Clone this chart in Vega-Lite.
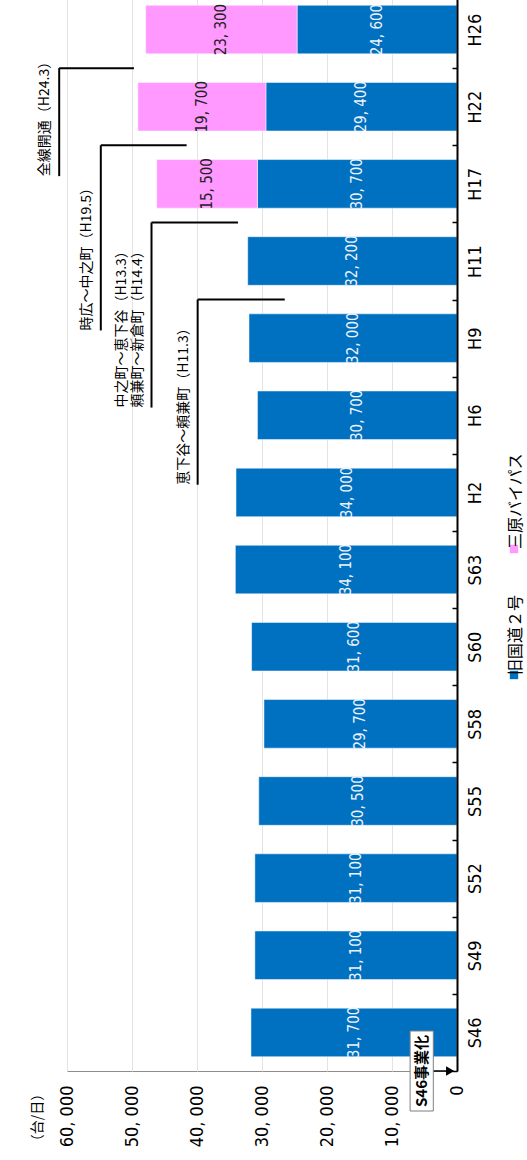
{
  "$schema": "https://vega.github.io/schema/vega-lite/v6.json",
  "width": 390,
  "height": 1080,
  "autosize": "none",
  "padding": {"left": 67, "top": -9, "right": 70, "bottom": 89},
  "background": "#ffffff",
  "config": {
    "view": {"stroke": "#8c8c8c", "strokeWidth": 1},
    "locale": {"number": {"decimal": ".", "thousands": ", ", "grouping": [3], "currency": ["", ""]}},
    "font": "Noto Sans CJK JP",
    "style": {"guide-label": {"angle": 270}}
  },
  "datasets": {
    "traffic": [
      {"c": "S46", "s": "旧国道２号", "v": 31700},
      {"c": "S49", "s": "旧国道２号", "v": 31100},
      {"c": "S52", "s": "旧国道２号", "v": 31100},
      {"c": "S55", "s": "旧国道２号", "v": 30500},
      {"c": "S58", "s": "旧国道２号", "v": 29700},
      {"c": "S60", "s": "旧国道２号", "v": 31600},
      {"c": "S63", "s": "旧国道２号", "v": 34100},
      {"c": "H2", "s": "旧国道２号", "v": 34000},
      {"c": "H6", "s": "旧国道２号", "v": 30700},
      {"c": "H9", "s": "旧国道２号", "v": 32000},
      {"c": "H11", "s": "旧国道２号", "v": 32200},
      {"c": "H17", "s": "旧国道２号", "v": 30700},
      {"c": "H22", "s": "旧国道２号", "v": 29400},
      {"c": "H26", "s": "旧国道２号", "v": 24600},
      {"c": "H17", "s": "三原バイパス", "v": 15500},
      {"c": "H22", "s": "三原バイパス", "v": 19700},
      {"c": "H26", "s": "三原バイパス", "v": 23300}
    ],
    "callouts": [
      {"a": "H22", "b": "H17", "x1": 61200, "x2": 49700, "t": "全線開通（H24.3）"},
      {"a": "H17", "b": "H9", "x1": 54800, "x2": 41600, "t": "時広～中之町（H19.5）"},
      {"a": "H11", "b": "H6", "x1": 47000, "x2": 33700, "t": "中之町～恵下谷（H13.3）\n頼兼町～新倉町（H14.4）"},
      {"a": "H9", "b": "H2", "x1": 39900, "x2": 26500, "t": "恵下谷～頼兼町（H11.3）"}
    ],
    "marker": [
      {"c": "S46", "t": "S46事業化", "box": 5430, "from": 3740, "to": 600, "head": 1050}
    ]
  },
  "layer": [
    {
      "data": {"name": "traffic"},
      "mark": {"type": "bar", "height": {"band": 0.63}, "stroke": "#ffffff", "strokeOpacity": 0.5, "strokeWidth": 1},
      "encoding": {
        "y": {
          "field": "c", "type": "nominal",
          "scale": {"domain": ["H26", "H22", "H17", "H11", "H9", "H6", "H2", "S63", "S60", "S58", "S55", "S52", "S49", "S46"], "paddingInner": 0, "paddingOuter": 0},
          "axis": {
            "orient": "right", "title": null, "domainColor": "#000000", "domainWidth": 2,
            "ticks": true, "tickColor": "#000000", "tickWidth": 1.5, "tickSize": -5, "tickBand": "extent",
            "labelAngle": 270, "labelAlign": "center", "labelBaseline": "middle", "labelPadding": 23,
            "labelFont": "Liberation Sans Narrow, Arial Narrow, DejaVu Sans Condensed, Liberation Sans, sans-serif",
            "labelFontSize": 18, "labelColor": "#000000", "zindex": 2
          }
        },
        "x": {
          "field": "v", "type": "quantitative", "stack": "zero",
          "scale": {"domain": [0, 60000], "reverse": true, "nice": false},
          "axis": {
            "orient": "bottom", "values": [0, 10000, 20000, 30000, 40000, 50000, 60000], "format": ",.0f",
            "labelAngle": 270, "labelAlign": "right", "labelBaseline": "middle", "labelPadding": 14,
            "labelFont": "Liberation Sans Narrow, Arial Narrow, DejaVu Sans Condensed, Liberation Sans, sans-serif",
            "labelFontSize": 18, "labelColor": "#000000", "labelFlush": false, "labelOverlap": false,
            "ticks": false, "domain": false, "grid": true, "gridColor": "#e3e3e3", "gridWidth": 1,
            "title": "（台/日）", "titleAngle": 270, "titleX": -30, "titleY": 46, "titleAlign": "center", "titleBaseline": "middle",
            "titleFont": "Noto Sans CJK JP", "titleFontSize": 14, "titleFontWeight": "normal", "titleColor": "#000000"
          }
        },
        "color": {
          "field": "s", "type": "nominal",
          "scale": {"domain": ["三原バイパス", "旧国道２号"], "range": ["#FF99FF", "#0070C0"]},
          "legend": {
            "orient": "none", "legendX": 439, "legendY": 550, "direction": "vertical", "title": null,
            "symbolType": "square", "symbolSize": 70, "symbolStrokeWidth": 0,
            "labelFont": "Noto Sans CJK JP", "labelFontSize": 16, "labelColor": "#000000", "labelOffset": -6,
            "labelAlign": "left", "labelBaseline": "middle",
            "labelExpr": "'\u2002' + datum.label",
            "rowPadding": 40, "labelLimit": 0
          }
        },
        "order": {"field": "s", "sort": "descending"}
      }
    },
    {
      "data": {"name": "traffic"},
      "mark": {"type": "text", "angle": 270, "align": "center", "baseline": "middle",
        "font": "Liberation Sans Narrow, Arial Narrow, DejaVu Sans Condensed, Liberation Sans, sans-serif", "fontSize": 15},
      "encoding": {
        "y": {"field": "c", "type": "nominal"},
        "x": {"field": "v", "type": "quantitative", "stack": "zero", "bandPosition": 0.5},
        "detail": {"field": "s"},
        "order": {"field": "s", "sort": "descending"},
        "text": {"field": "v", "format": ","},
        "color": {"condition": {"test": "datum.s === '旧国道２号'", "value": "#eef2fa"}, "value": "#222222"}
      }
    },
    {
      "data": {"name": "callouts"},
      "mark": {"type": "rule", "color": "#000000", "strokeWidth": 2, "clip": false},
      "encoding": {
        "y": {"field": "a", "type": "nominal", "bandPosition": 0},
        "x": {"field": "x1", "type": "quantitative"},
        "x2": {"field": "x2"}
      }
    },
    {
      "data": {"name": "callouts"},
      "mark": {"type": "rule", "color": "#000000", "strokeWidth": 2, "clip": false},
      "encoding": {
        "y": {"field": "a", "type": "nominal", "bandPosition": 0},
        "y2": {"field": "b", "bandPosition": 0.4},
        "x": {"field": "x1", "type": "quantitative"}
      }
    },
    {
      "data": {"name": "callouts"},
      "transform": [{"filter": "datum.b !== 'H6'"}],
      "mark": {"type": "text", "angle": 270, "align": "left", "baseline": "middle", "dy": -14,
        "font": "Noto Sans CJK JP", "fontSize": 14, "color": "#000000", "clip": false},
      "encoding": {
        "y": {"field": "b", "type": "nominal", "bandPosition": 0.4},
        "x": {"field": "x1", "type": "quantitative"},
        "text": {"field": "t"}
      }
    },
    {
      "data": {"name": "callouts"},
      "transform": [{"filter": "datum.b === 'H6'"}],
      "mark": {"type": "text", "angle": 270, "align": "left", "baseline": "middle", "dy": -30,
        "font": "Noto Sans CJK JP", "fontSize": 14, "color": "#000000", "lineBreak": "\n", "lineHeight": 16, "clip": false},
      "encoding": {
        "y": {"field": "b", "type": "nominal", "bandPosition": 0.4},
        "x": {"field": "x1", "type": "quantitative"},
        "text": {"field": "t"}
      }
    },
    {
      "data": {"name": "marker"},
      "mark": {"type": "rule", "color": "#000000", "strokeWidth": 1.5, "clip": false},
      "encoding": {
        "y": {"field": "c", "type": "nominal", "bandPosition": 1},
        "x": {"field": "from", "type": "quantitative"},
        "x2": {"field": "to"}
      }
    },
    {
      "data": {"name": "marker"},
      "mark": {"type": "point", "shape": "triangle-right", "size": 90, "filled": true, "color": "#000000", "opacity": 1, "clip": false},
      "encoding": {
        "y": {"field": "c", "type": "nominal", "bandPosition": 1},
        "x": {"field": "head", "type": "quantitative"}
      }
    },
    {
      "data": {"name": "marker"},
      "mark": {"type": "point", "shape": "M-0.29,-1H0.29V1H-0.29Z", "size": 6400, "filled": true, "fill": "#ffffff", "stroke": "#7f7f7f", "strokeWidth": 1, "opacity": 1, "clip": false},
      "encoding": {
        "y": {"field": "c", "type": "nominal", "bandPosition": 1},
        "x": {"field": "box", "type": "quantitative"}
      }
    },
    {
      "data": {"name": "marker"},
      "mark": {"type": "text", "angle": 270, "align": "center", "baseline": "middle", "font": "Noto Sans CJK JP", "fontSize": 15, "fontWeight": "bold", "color": "#000000", "clip": false},
      "encoding": {
        "y": {"field": "c", "type": "nominal", "bandPosition": 1},
        "x": {"field": "box", "type": "quantitative"},
        "text": {"field": "t"}
      }
    }
  ]
}
